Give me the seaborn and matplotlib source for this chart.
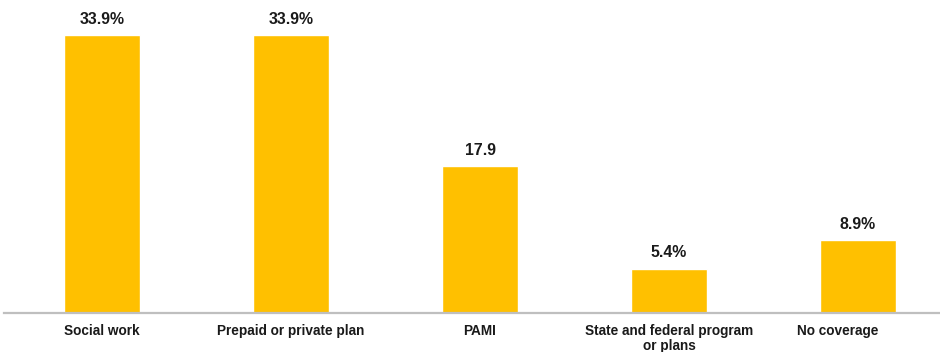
import matplotlib
matplotlib.use("Agg")
import matplotlib.pyplot as plt
import matplotlib.transforms as mtransforms
import seaborn as sns
import pandas as pd

categories = ["Social work", "Prepaid or private plan", "PAMI",
              "State and federal program\nor plans", "No coverage"]
values = [33.9, 33.9, 17.9, 5.4, 8.9]
value_labels = ["33.9%", "33.9%", "17.9", "5.4%", "8.9%"]

sns.set_style("white")
plt.rcParams['font.family'] = ['Liberation Sans', 'DejaVu Sans']

df = pd.DataFrame({"cat": categories, "val": values})

fig = plt.figure(figsize=(9.40, 3.52), dpi=100)
ax = fig.add_axes([4/940, 39/352, 936/940, 313/352])

sns.barplot(data=df, x="cat", y="val", color="#FFC000", width=0.4,
            saturation=1, ax=ax)

ax.bar_label(ax.containers[0], labels=value_labels, padding=6,
             fontsize=11.4, fontweight="bold", color="#1a1a1a")

ax.set_xlim(-0.519, 4.434)
ax.set_ylim(0, 38.2)
ax.set_xlabel("")
ax.set_ylabel("")
ax.set_yticks([])
ax.tick_params(axis="x", length=0, pad=8)
labels = ax.get_xticklabels()
for lab in labels:
    lab.set_fontsize(9.8)
    lab.set_fontweight("bold")
    lab.set_color("#1a1a1a")
    lab.set_linespacing(1.1)
# the reference's last label sits slightly left of its bar
labels[-1].set_transform(labels[-1].get_transform() +
                         mtransforms.ScaledTranslation(-0.2, 0, fig.dpi_scale_trans))

for s in ["top", "right", "left"]:
    ax.spines[s].set_visible(False)
ax.spines["bottom"].set_color("#bfbfbf")
ax.spines["bottom"].set_linewidth(1.6)

fig.savefig("out.png", dpi=100)
